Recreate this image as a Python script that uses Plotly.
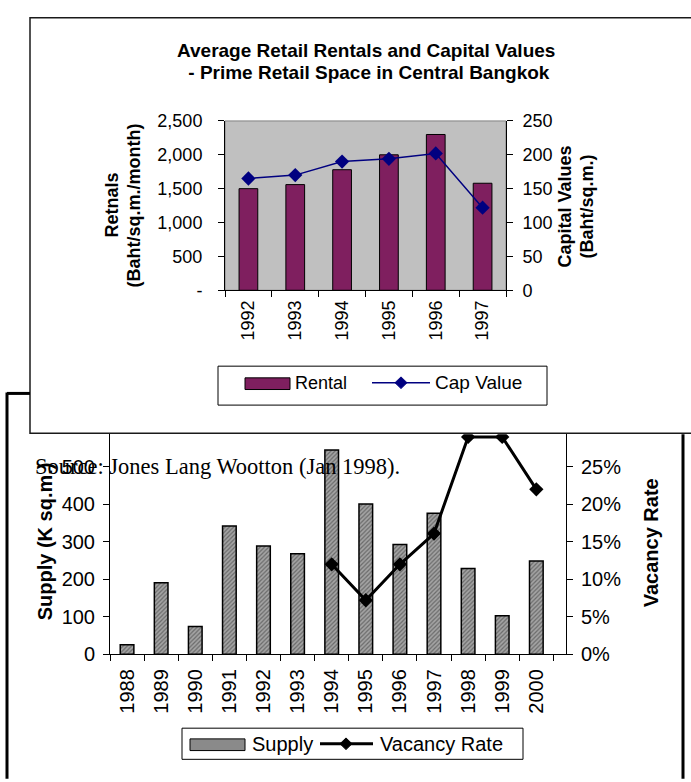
import plotly.graph_objects as go

W, H = 691, 782

# ---- data: prime retail space, central Bangkok ----
years_top = ["1992", "1993", "1994", "1995", "1996", "1997"]
rental = [1500, 1560, 1780, 2000, 2300, 1580]          # Baht/sq.m./month
cap_value = [165, 170, 190, 194, 202, 122]              # Baht/sq.m.

years_bottom = ["1988", "1989", "1990", "1991", "1992", "1993", "1994",
                "1995", "1996", "1997", "1998", "1999", "2000"]
supply = [25, 191, 74, 342, 289, 268, 545, 401, 293, 376, 229, 103, 249]  # K sq.m.
vac_years = ["1994", "1995", "1996", "1997", "1998", "1999", "2000"]
vacancy = [0.12, 0.072, 0.12, 0.161, 0.29, 0.29, 0.22]

left_ticks = [0, 500, 1000, 1500, 2000, 2500]
left_ticktext = ["-", "500", "1,000", "1,500", "2,000", "2,500"]
right_ticks = [0, 50, 100, 150, 200, 250]

SANS = "Liberation Sans, Arial, sans-serif"
SERIF = "Liberation Serif, Times New Roman, serif"


def px(x):
    return x / W


def py(y):
    return 1 - y / H


fig = go.Figure()

# ---- upper chart: rentals (bars) and capital values (line) ----
fig.add_trace(go.Bar(
    x=years_top, y=rental, xaxis="x", yaxis="y",
    marker=dict(color="#7F1F5F", line=dict(color="#000000", width=1)),
    showlegend=False,
))
fig.add_trace(go.Scatter(
    x=years_top, y=cap_value, xaxis="x", yaxis="y2", mode="lines+markers",
    line=dict(color="#000080", width=1.5),
    marker=dict(symbol="diamond", size=11, color="#000080"),
    showlegend=False,
))

# ---- lower chart: supply (bars) and vacancy rate (line) ----
fig.add_trace(go.Bar(
    x=years_bottom, y=supply, xaxis="x2", yaxis="y3",
    marker=dict(color="#8a8a8a",
                pattern=dict(shape="/", fgcolor="#6a6a6a", bgcolor="#a4a4a4",
                             size=3, solidity=0.4, fillmode="replace"),
                line=dict(color="#000000", width=1.5)),
    showlegend=False,
))
fig.add_trace(go.Scatter(
    x=vac_years, y=vacancy, xaxis="x2", yaxis="y4", mode="lines+markers",
    cliponaxis=True,
    line=dict(color="#000000", width=3),
    marker=dict(symbol="diamond", size=11, color="#000000"),
    showlegend=False,
))

# plot areas (pixel positions converted to paper fractions)
top_x = [px(225), px(506)]
top_y = [py(288), py(114)]
bot_x = [px(110), px(566)]
bot_top_px, bot_bottom_px, bot_full_top_px = 436, 662, 431
visible = (bot_bottom_px - bot_top_px) / (bot_bottom_px - bot_full_top_px)
bot_y = [py(bot_bottom_px), py(bot_top_px)]

top_font = dict(family=SANS, size=18, color="#000000")
bot_font = dict(family=SANS, size=20, color="#000000")

common = dict(ticks="outside", ticklen=6, tickcolor="#000", showline=True,
              linecolor="#000", linewidth=1, showgrid=False, fixedrange=True)

fig.update_layout(
    width=W, height=H,
    margin=dict(l=0, r=0, t=0, b=0),
    paper_bgcolor="white",
    plot_bgcolor="rgba(0,0,0,0)",
    bargap=0.6,
    barmode="overlay",
    xaxis=dict(domain=top_x, anchor="y", type="category", tickangle=-90,
               tickson="boundaries", tickfont=top_font,
               ticklabelstandoff=2, **common),
    yaxis=dict(domain=top_y, anchor="x", range=[0, 2500], tickvals=left_ticks,
               ticktext=left_ticktext, tickfont=top_font, zeroline=False,
               ticklabelstandoff=12, **common),
    yaxis2=dict(domain=top_y, anchor="x", overlaying="y", side="right",
                range=[0, 250], tickvals=right_ticks, tickfont=top_font,
                zeroline=False, ticklabelstandoff=6, **common),
    xaxis2=dict(domain=bot_x, anchor="y3", type="category", tickangle=-90,
                tickson="boundaries", tickfont=bot_font,
                ticklabelstandoff=6, **common),
    yaxis3=dict(domain=bot_y, anchor="x2", range=[0, 600 * visible],
                dtick=100, tickfont=bot_font, zeroline=False,
                ticklabelstandoff=4, **common),
    yaxis4=dict(domain=bot_y, anchor="x2", overlaying="y3", side="right",
                range=[0, 0.30 * visible], dtick=0.05, tickformat=".0%",
                tickfont=bot_font, zeroline=False, ticklabelstandoff=4,
                **common),
)

shapes = []
# upper chart frame (white panel) drawn beneath both plot areas
shapes.append(dict(type="rect", xref="paper", yref="paper", layer="below",
                   x0=px(30), x1=px(705), y0=py(435), y1=py(8),
                   fillcolor="white", line=dict(color="#1a1a1a", width=1.5)))
# grey plot-area background with darker border
shapes.append(dict(type="rect", xref="paper", yref="paper", layer="below",
                   x0=top_x[0], x1=top_x[1], y0=top_y[0], y1=top_y[1],
                   fillcolor="#C0C0C0", line=dict(color="#808080", width=1)))
# lower chart frame: visible parts of the heavy outline
frame = dict(color="#000000", width=3)
shapes.append(dict(type="line", xref="paper", yref="paper", x0=px(7),
                   x1=px(30), y0=py(394), y1=py(394), line=frame))
shapes.append(dict(type="line", xref="paper", yref="paper", x0=px(7),
                   x1=px(7), y0=py(393), y1=py(790), line=frame))
shapes.append(dict(type="line", xref="paper", yref="paper", x0=px(683),
                   x1=px(683), y0=py(436), y1=py(790), line=frame))

# legend boxes
shapes.append(dict(type="rect", xref="paper", yref="paper", x0=px(218),
                   x1=px(547), y0=py(406), y1=py(366), fillcolor="white",
                   line=dict(color="#000", width=1)))
shapes.append(dict(type="rect", xref="paper", yref="paper", x0=px(182),
                   x1=px(523), y0=py(770), y1=py(738), fillcolor="white",
                   line=dict(color="#000", width=1)))
# legend swatches
shapes.append(dict(type="rect", xref="paper", yref="paper", x0=px(245),
                   x1=px(290), y0=py(390), y1=py(378), fillcolor="#7F1F5F",
                   line=dict(color="#000", width=1)))
shapes.append(dict(type="line", xref="paper", yref="paper", x0=px(372),
                   x1=px(430), y0=py(383), y1=py(383),
                   line=dict(color="#000080", width=1.5)))
shapes.append(dict(type="rect", xref="paper", yref="paper", x0=px(190),
                   x1=px(245), y0=py(761), y1=py(749), fillcolor="#8a8a8a",
                   line=dict(color="#000", width=1)))
shapes.append(dict(type="line", xref="paper", yref="paper", x0=px(320),
                   x1=px(373), y0=py(754), y1=py(754),
                   line=dict(color="#000", width=3)))


def diamond(cx, cy, r, color):
    path = (f"M {px(cx - r)} {py(cy)} L {px(cx)} {py(cy - r)} "
            f"L {px(cx + r)} {py(cy)} L {px(cx)} {py(cy + r)} Z")
    return dict(type="path", xref="paper", yref="paper", path=path,
                fillcolor=color, line=dict(color=color, width=1))


shapes.append(diamond(401, 383, 6, "#000080"))
shapes.append(diamond(346, 754, 6, "#000000"))
fig.update_layout(shapes=shapes)

ann = []


def label(text, x, y, size=16, bold=False, angle=0, family=SANS,
          xanchor="center", yanchor="middle", align="center"):
    if bold:
        text = f"<b>{text}</b>"
    ann.append(dict(text=text, x=px(x), y=py(y), xref="paper", yref="paper",
                    showarrow=False, textangle=angle, xanchor=xanchor,
                    yanchor=yanchor, align=align,
                    font=dict(family=family, size=size, color="#000")))


label("Average Retail Rentals and Capital Values", 366, 42, size=19, bold=True)
label(" - Prime Retail Space in Central Bangkok", 366, 64, size=19, bold=True)
label("Retnals", 112, 201, size=18, bold=True, angle=-90)
label("(Baht/sq.m./month)", 134, 201, size=18, bold=True, angle=-90)
label("Capital Values", 565, 202, size=18, bold=True, angle=-90)
label("(Baht/sq.m.)", 587, 202, size=18, bold=True, angle=-90)
label("Rental", 293, 383, size=18, xanchor="left")
label("Cap Value", 433, 383, size=19, xanchor="left")
label("Supply (K sq.m.)", 45, 546, size=20, bold=True, angle=-90)
label("Vacancy Rate", 651, 548, size=20, bold=True, angle=-90)
label("Supply", 250, 754, size=20, xanchor="left")
label("Vacancy Rate", 378, 754, size=20, xanchor="left")
label("Source: Jones Lang Wootton (Jan 1998).", 33, 469, size=22.5,
      family=SERIF, xanchor="left")
fig.update_layout(annotations=ann)

# the page itself carries no margin, so the figure fills the window exactly
fig.write_html(
    "out.html",
    post_script="document.body.style.margin='0';"
                "document.body.style.overflow='hidden';",
)
